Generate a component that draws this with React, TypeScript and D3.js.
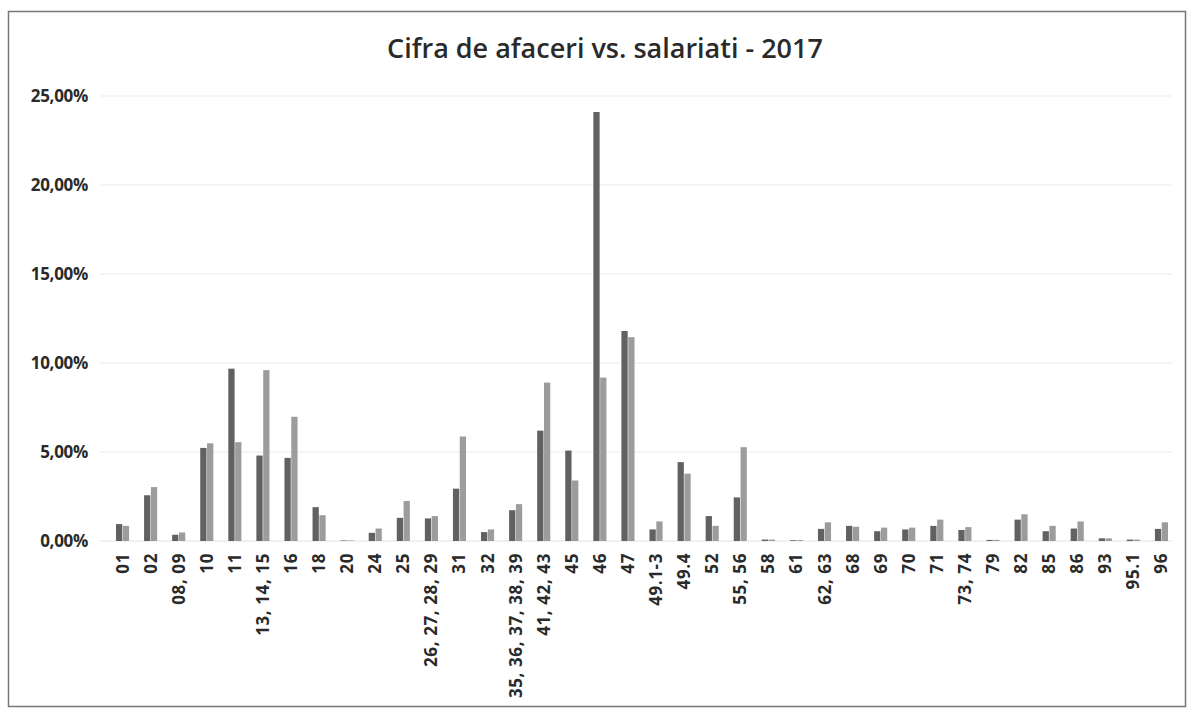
import React from "react";
import * as d3 from "d3";

const categories = ["01","02","08, 09","10","11","13, 14, 15","16","18","20","24","25","26, 27, 28, 29","31","32","35, 36, 37, 38, 39","41, 42, 43","45","46","47","49.1-3","49.4","52","55, 56","58","61","62, 63","68","69","70","71","73, 74","79","82","85","86","93","95.1","96"];
const cifraAfaceri = [0.95,2.57,0.35,5.23,9.68,4.8,4.67,1.9,0.03,0.46,1.3,1.27,2.94,0.5,1.73,6.2,5.08,24.1,11.8,0.65,4.43,1.4,2.45,0.08,0.04,0.68,0.85,0.55,0.65,0.85,0.62,0.06,1.2,0.55,0.7,0.15,0.08,0.68];
const salariati = [0.85,3.03,0.48,5.49,5.55,9.6,6.98,1.45,0.03,0.7,2.25,1.4,5.87,0.65,2.07,8.9,3.4,9.18,11.45,1.1,3.78,0.85,5.27,0.08,0.05,1.05,0.8,0.75,0.75,1.2,0.78,0.06,1.5,0.85,1.1,0.15,0.08,1.05];
const yTicks = [0,5,10,15,20,25];
const title = "Cifra de afaceri vs. salariati - 2017";

export default function App() {
  const W = 1192, H = 711;
  const left = 108.5, right = 1175.5, top = 96, bottom = 541;
  const x = d3.scaleBand<string>().domain(categories).range([left, right]).paddingInner(0).paddingOuter(0);
  const inner = d3.scaleBand<string>().domain(["a","b"]).range([0, x.bandwidth()]).paddingInner(0.08).paddingOuter(1.1);
  const y = d3.scaleLinear().domain([0,25]).range([bottom, top]);
  const fmt = (v: number) => v.toFixed(2).replace(".", ",") + "%";
  const fontB = "'Open Sans', 'Liberation Sans', sans-serif";
  return (
    <svg width={W} height={H} style={{position:"absolute", left:0, top:0, background:"#fff"}}>
      <rect x={8.5} y={11.5} width={1177} height={695} fill="#fff" stroke="#777" strokeWidth={1.5}/>
      <text x={605} y={58} textAnchor="middle" fontFamily={fontB} fontWeight={600} fontSize={27} fill="#2a2a2a">{title}</text>
      {yTicks.map(t => (
        <g key={t}>
          {t > 0 && <line x1={100} x2={1172} y1={y(t)} y2={y(t)} stroke="#ebebeb" strokeWidth={1}/>}
          <text x={88} y={y(t)+6} textAnchor="end" fontFamily={fontB} fontWeight={700} fontSize={17} fill="#2a2a2a" letterSpacing={-0.3}>{fmt(t)}</text>
        </g>
      ))}
      <line x1={100} x2={1172} y1={bottom} y2={bottom} stroke="#e2e2e2" strokeWidth={1}/>
      {categories.map((c, i) => {
        const x0 = x(c)!;
        const a = cifraAfaceri[i], b = salariati[i];
        return (
          <g key={c}>
            <rect x={x0 + inner("a")!} y={y(a)} width={inner.bandwidth()} height={bottom - y(a)} fill="#616161"/>
            <rect x={x0 + inner("b")!} y={y(b)} width={inner.bandwidth()} height={bottom - y(b)} fill="#9c9c9c"/>
            <text transform={`translate(${x0 + x.bandwidth()/2 + 6},${553}) rotate(-90)`} textAnchor="end" fontFamily={fontB} fontWeight={700} fontSize={17} fill="#2a2a2a" letterSpacing={0.6}>{c}</text>
          </g>
        );
      })}
    </svg>
  );
}
